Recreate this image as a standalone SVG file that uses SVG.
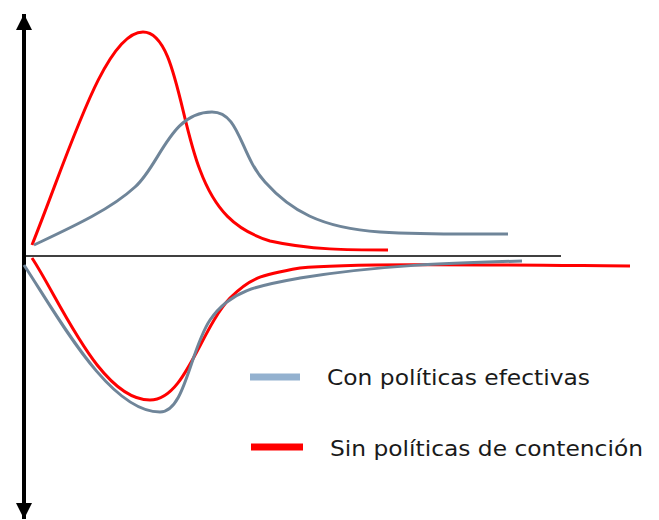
<svg xmlns="http://www.w3.org/2000/svg" width="659" height="520" viewBox="0 0 659 520">
<style>
.ax{stroke:#000;fill:none}
.red{stroke:#ff0000;stroke-width:3;fill:none}
.gry{stroke:#6f8599;stroke-width:3;fill:none}
.lbl{font-family:"DejaVu Sans","Liberation Sans",Arial,sans-serif;font-size:21px;fill:#1a1a1a}
</style>
<defs>
<marker id="ah" viewBox="0 0 10 10" refX="10" refY="5" markerWidth="4" markerHeight="4" orient="auto-start-reverse" markerUnits="strokeWidth">
<path d="M0,0 L10,5 L0,10 z" fill="#000"/>
</marker>
</defs>
<rect width="659" height="520" fill="#fff"/>
<g id="axes">
<line class="ax" x1="24" y1="14" x2="24" y2="519" stroke-width="4" marker-start="url(#ah)" marker-end="url(#ah)"/>
<line class="ax" x1="24" y1="256" x2="561" y2="256" stroke-width="1.5"/>
</g>
<g id="curves">
<path class="red" d="M32,245 C70,150 105,32 143,32 C175,32 180,120 200,170 C215,210 235,230 270,241 C310,250 350,250 388,250"/>
<path class="gry" d="M34,245 C70,228 110,210 135,187 C160,165 170,112 212,112 C240,112 240,155 265,182 C290,210 320,228 380,232 C430,235 470,234 508,234"/>
<path class="red" d="M32,258 C60,300 100,400 150,400 C185,400 200,330 230,298 C250,278 260,275 300,268 C350,263 500,265 630,266"/>
<path class="gry" d="M24,265 C60,320 110,412 160,412 C185,412 190,350 210,320 C230,290 260,285 300,278 C380,265 450,263 522,261"/>
</g>
<g id="legend-con">
<line x1="250" y1="377" x2="300" y2="377" stroke="#93b1cf" stroke-width="7"/>
<text class="lbl" x="327" y="385" textLength="263" lengthAdjust="spacingAndGlyphs">Con políticas efectivas</text>
</g>
<g id="legend-sin">
<line x1="251" y1="447" x2="303" y2="447" stroke="#ff0000" stroke-width="7"/>
<text class="lbl" x="330" y="456" textLength="313" lengthAdjust="spacingAndGlyphs">Sin políticas de contención</text>
</g>
</svg>
